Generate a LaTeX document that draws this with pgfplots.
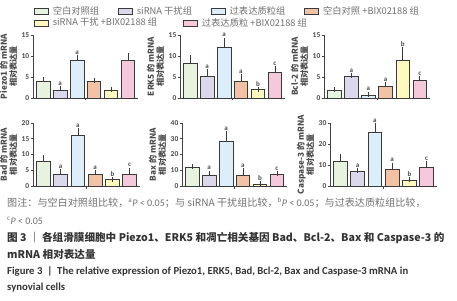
\documentclass[border=0pt]{standalone}
\usepackage{fontspec}
\setmainfont{Carlito}
\newfontfamily\cjk{Noto Sans CJK SC}
\usepackage{pgfplots}
\pgfplotsset{compat=1.18}
\definecolor{c1}{HTML}{E8F3DF}
\definecolor{c2}{HTML}{DBD8EE}
\definecolor{c3}{HTML}{DDEEFB}
\definecolor{c4}{HTML}{F2C2A5}
\definecolor{c5}{HTML}{FFF9BE}
\definecolor{c6}{HTML}{F6C8DC}
\definecolor{bord}{HTML}{3A3A3A}
\definecolor{axc}{HTML}{444444}
\definecolor{txt}{HTML}{4A4A4A}
\definecolor{note}{HTML}{707070}
\definecolor{cap}{HTML}{333333}
\pgfplotsset{
  panel/.style={
    scale only axis, width=105pt, height=63pt,
    xmin=0.4, xmax=6.6, ymin=0,
    axis x line*=bottom, axis y line*=left,
    axis line style={draw=axc, line width=0.8pt},
    xtick={3.5}, xticklabels={},
    tick align=outside, major tick length=2.5pt,
    tick style={draw=axc, line width=0.6pt},
    /pgf/number format/assume math mode=true,
    yticklabel style={font=\bfseries\fontsize{7.5}{8}\selectfont, text=txt, inner sep=1pt},
    ylabel style={align=center, font=\cjk\bfseries\fontsize{8.2}{9.5}\selectfont, text=txt},
    clip=false,
    legend style={draw=none, fill=none, font=\cjk\fontsize{9.3}{10}\selectfont, text=note, anchor=north west, inner sep=0pt,
       /tikz/every odd column/.append style={column sep=2pt},
       /tikz/every even column/.append style={column sep=17pt}},
    legend cell align=left,
  },
  bs/.style={ybar, bar width=0.8, fill=#1, draw=bord, line width=0.6pt,
    legend image code/.code={\draw[fill=#1, draw=bord, line width=0.6pt] (0pt,-3pt) rectangle (14pt,3pt);},
    error bars/y dir=plus, error bars/y explicit,
    error bars/error bar style={draw=bord, line width=0.6pt},
    error bars/error mark options={draw=bord, mark size=2.5pt, line width=0.6pt}},
  lab/.style={draw=none, mark=none, forget plot, nodes near coords, point meta=explicit symbolic,
    nodes near coords style={font=\bfseries\fontsize{7}{7}\selectfont, text=txt, anchor=south, inner sep=1pt, yshift=2pt}},
}
\begin{document}
\begin{tikzpicture}
\path[use as bounding box] (0pt,0pt) rectangle (457pt,300pt);
% Piezo1
\begin{axis}[panel, at={(33pt,202pt)}, anchor=south west, ymax=15, ytick={0,5,10,15},
  ylabel={Piezo1 的 mRNA\\相对表达量},
  legend columns=4, legend style={at={(axis description cs:-0.143,1.492)}, xshift=16pt}]
\addplot[bs=c1] coordinates {(1,4.0) +- (0,0.45)}; \addlegendentry{空白对照组}
\addplot[bs=c2] coordinates {(2,1.95) +- (0,0.2)}; \addlegendentry{siRNA 干扰组}
\addplot[bs=c3] coordinates {(3,9.0) +- (0,0.7)}; \addlegendentry{过表达质粒组}
\addplot[bs=c4] coordinates {(4,4.0) +- (0,0.25)}; \addlegendentry{空白对照 +BIX02188 组}
\addplot[forget plot, bs=c5] coordinates {(5,1.8) +- (0,0.2)};
\addplot[forget plot, bs=c6] coordinates {(6,8.9) +- (0,1.2)};
\addplot[lab] coordinates {(2,2.15)[a] (3,9.7)[a]};
\end{axis}
% ERK5
\begin{axis}[panel, at={(180pt,202pt)}, anchor=south west, ymax=15, ytick={0,5,10,15},
  ylabel={ERK5 的 mRNA\\相对表达量},
  legend columns=2, legend style={at={(axis description cs:-1.543,1.302)}, xshift=16pt,
    /tikz/every even column/.append style={column sep=24pt}}]
\addplot[forget plot, bs=c1] coordinates {(1,8.3) +- (0,1.4)};
\addplot[forget plot, bs=c2] coordinates {(2,5.1) +- (0,1.1)};
\addplot[forget plot, bs=c3] coordinates {(3,12.0) +- (0,1.8)};
\addplot[forget plot, bs=c4] coordinates {(4,3.9) +- (0,1.2)};
\addplot[bs=c5] coordinates {(5,2.05) +- (0,0)}; \addlegendentry{siRNA 干扰 +BIX02188 组}
\addplot[bs=c6] coordinates {(6,6.1) +- (0,0.9)}; \addlegendentry{过表达质粒 +BIX02188 组}
\addplot[lab] coordinates {(2,6.2)[a] (3,13.8)[a] (4,5.1)[a] (5,2.05)[b] (6,7.0)[c]};
\end{axis}
% Bcl-2
\begin{axis}[panel, at={(324pt,202pt)}, anchor=south west, width=106pt, ymax=15, ytick={0,5,10,15},
  ylabel={Bcl-2 的 mRNA\\相对表达量}]
\addplot[bs=c1] coordinates {(1,1.8) +- (0,0.15)};
\addplot[bs=c2] coordinates {(2,5.1) +- (0,0.25)};
\addplot[bs=c3] coordinates {(3,0.73) +- (0,0.15)};
\addplot[bs=c4] coordinates {(4,2.9) +- (0,0.2)};
\addplot[bs=c5] coordinates {(5,8.95) +- (0,2.5)};
\addplot[bs=c6] coordinates {(6,4.1) +- (0,0.55)};
\addplot[lab] coordinates {(2,5.35)[a] (3,0.9)[a] (4,3.1)[a] (5,11.5)[b] (6,4.7)[c]};
\end{axis}
% Bad
\begin{axis}[panel, at={(33pt,114pt)}, anchor=south west, width=107pt, ymax=20, ytick={0,5,10,15,20},
  ylabel={Bad 的 mRNA\\相对表达量}]
\addplot[bs=c1] coordinates {(1,7.8) +- (0,1.3)};
\addplot[bs=c2] coordinates {(2,3.7) +- (0,0.9)};
\addplot[bs=c3] coordinates {(3,16.2) +- (0,1.4)};
\addplot[bs=c4] coordinates {(4,3.7) +- (0,0.6)};
\addplot[bs=c5] coordinates {(5,2.1) +- (0,0)};
\addplot[bs=c6] coordinates {(6,3.7) +- (0,1.3)};
\addplot[lab] coordinates {(2,4.6)[a] (3,17.6)[a] (4,4.3)[a] (5,2.1)[b] (6,5.0)[c]};
\end{axis}
% Bax
\begin{axis}[panel, at={(182pt,114pt)}, anchor=south west, ymax=40, ytick={0,10,20,30,40},
  ylabel={Bax 的 mRNA\\相对表达量}]
\addplot[bs=c1] coordinates {(1,11.6) +- (0,0.9)};
\addplot[bs=c2] coordinates {(2,6.9) +- (0,1.2)};
\addplot[bs=c3] coordinates {(3,28.4) +- (0,4.9)};
\addplot[bs=c4] coordinates {(4,6.9) +- (0,2.8)};
\addplot[bs=c5] coordinates {(5,1.1) +- (0,0.4)};
\addplot[bs=c6] coordinates {(6,7.3) +- (0,0.4)};
\addplot[lab] coordinates {(2,8.1)[a] (3,33.3)[a] (4,9.7)[a] (5,1.5)[b] (6,7.7)[c]};
\end{axis}
% Caspase-3
\begin{axis}[panel, at={(330pt,114pt)}, anchor=south west, width=107pt, ymax=30, ytick={0,10,20,30},
  ylabel={Caspase-3 的 mRNA\\相对表达量}]
\addplot[bs=c1] coordinates {(1,11.8) +- (0,2.1)};
\addplot[bs=c2] coordinates {(2,6.9) +- (0,0.4)};
\addplot[bs=c3] coordinates {(3,25.5) +- (0,3.2)};
\addplot[bs=c4] coordinates {(4,7.9) +- (0,2.1)};
\addplot[bs=c5] coordinates {(5,2.7) +- (0,0.3)};
\addplot[bs=c6] coordinates {(6,8.7) +- (0,2.1)};
\addplot[lab] coordinates {(2,7.3)[a] (3,28.7)[a] (4,10.0)[a] (5,3.0)[b] (6,10.8)[c]};
\end{axis}
% captions
\node[anchor=west, inner sep=0pt, text=note, font=\cjk\fontsize{10.1}{12}\selectfont] at (7pt,97pt)
 {图注：与空白对照组比较，\textsuperscript{\rmfamily a}{\rmfamily\itshape P} {\rmfamily< 0.05}；与 siRNA 干扰组比较，\textsuperscript{\rmfamily b}{\rmfamily\itshape P} {\rmfamily< 0.05}；与过表达质粒组比较，};
\node[anchor=west, inner sep=0pt, text=note, font=\rmfamily\fontsize{10}{12}\selectfont] at (7pt,79pt)
 {\textsuperscript{c}\textit{P} < 0.05};
\node[anchor=west, inner sep=0pt, text=cap, font=\cjk\bfseries\fontsize{10.6}{12}\selectfont] at (7pt,62pt)
 {图 3 ｜ 各组滑膜细胞中 Piezo1、ERK5 和凋亡相关基因 Bad、Bcl-2、Bax 和 Caspase-3 的};
\node[anchor=west, inner sep=0pt, text=cap, font=\cjk\bfseries\fontsize{10.6}{12}\selectfont] at (7pt,46pt)
 {mRNA 相对表达量};
\node[anchor=west, inner sep=0pt, text=cap, font=\rmfamily\bfseries\fontsize{10.7}{12}\selectfont] at (7pt,29pt)
 {Figure 3 \ \textbar\ \ The relative expression of Piezo1, ERK5, Bad, Bcl-2, Bax and Caspase-3 mRNA in};
\node[anchor=west, inner sep=0pt, text=cap, font=\rmfamily\bfseries\fontsize{10.7}{12}\selectfont] at (7pt,12pt)
 {synovial cells};
\end{tikzpicture}
\end{document}
